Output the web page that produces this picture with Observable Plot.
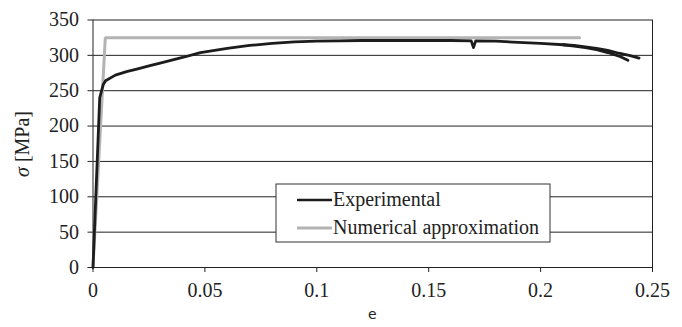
<!DOCTYPE html>
<html>
<head>
<meta charset="utf-8">
<script src="https://cdn.jsdelivr.net/npm/d3@7"></script>
<script src="https://cdn.jsdelivr.net/npm/@observablehq/plot@0.6"></script>
<style>
  html, body { margin: 0; padding: 0; background: #fff; }
  #chart { width: 682px; height: 327px; }
  #chart svg text, #chart svg tspan { font-family: "Liberation Serif", "DejaVu Serif", "Times New Roman", serif; }
  #chart svg text.sans { font-family: "DejaVu Sans", sans-serif; }
</style>
</head>
<body>
<div id="chart"></div>
<script>
// Experimental curve (main branch)
const expStrain = [0, 0.0015, 0.003, 0.0045, 0.0056, 0.01, 0.015, 0.02, 0.025, 0.03, 0.04, 0.048, 0.06, 0.07, 0.08, 0.09, 0.1, 0.11, 0.12, 0.13, 0.14, 0.15, 0.16, 0.169, 0.17, 0.171, 0.18, 0.19, 0.2, 0.21, 0.215, 0.22, 0.225, 0.23, 0.235, 0.239];
const expStress = [0, 120, 240, 258, 264, 272, 277, 281, 285, 289, 297, 304, 310, 314, 317, 319, 320, 320.5, 321, 321, 321, 321, 321, 320.5, 311, 320.5, 320, 318.5, 317, 315, 313, 311, 308, 304, 299, 293];
// Experimental curve (second branch near fracture)
const exp2Strain = [0.21, 0.215, 0.22, 0.225, 0.23, 0.235, 0.24, 0.244];
const exp2Stress = [315, 314, 312, 310, 307, 303, 299.5, 296];
// Numerical approximation (bilinear)
const numStrain = [0, 0.0055, 0.2174];
const numStress = [0, 325, 325];

const xTicks = [0, 0.05, 0.1, 0.15, 0.2, 0.25];
const yTicks = [0, 50, 100, 150, 200, 250, 300, 350];
const seriesNames = ["Experimental", "Numerical approximation"];
const seriesColors = ["#1c1c1c", "#b3b3b3"];

const exp1 = expStrain.map((e, i) => ({e, s: expStress[i]}));
const exp2 = exp2Strain.map((e, i) => ({e, s: exp2Stress[i]}));
const num = numStrain.map((e, i) => ({e, s: numStress[i]}));

const W = 682, H = 327;
const mL = 92.5, mR = 30, mT = 19.5, mB = 60;

const plot = Plot.plot({
  width: W,
  height: H,
  marginLeft: mL,
  marginRight: mR,
  marginTop: mT,
  marginBottom: mB,
  style: {fontSize: "20px", color: "#222", background: "#fff"},
  x: {domain: [0, 0.25]},
  y: {domain: [0, 350]},
  marks: [
    Plot.gridY(yTicks, {stroke: "#222", strokeOpacity: 1, strokeWidth: 1}),
    Plot.ruleX([0.25], {stroke: "#222", strokeWidth: 1}),
    Plot.line(num, {x: "e", y: "s", stroke: seriesColors[1], strokeWidth: 3, strokeLinejoin: "miter"}),
    Plot.line(exp1, {x: "e", y: "s", stroke: seriesColors[0], strokeWidth: 2.8}),
    Plot.line(exp2, {x: "e", y: "s", stroke: seriesColors[0], strokeWidth: 2.8}),
    Plot.axisX({ticks: xTicks, tickFormat: d => String(d), tickSize: 5, tickPadding: 10, label: null, stroke: "#222"}),
    Plot.axisY({ticks: yTicks, tickSize: 5, tickPadding: 9, label: null, stroke: "#222"}),
    Plot.ruleY([0], {stroke: "#222", strokeWidth: 1}),
    Plot.ruleX([0], {stroke: "#222", strokeWidth: 1})
  ]
});

document.getElementById("chart").appendChild(plot);

const svg = d3.select(plot);

// Y axis label
const yl = svg.append("text")
  .attr("transform", "translate(29,144) rotate(-90)")
  .attr("text-anchor", "middle")
  .attr("fill", "#222")
  .style("font-size", "20px");
yl.append("tspan").attr("font-style", "italic").text("σ");
yl.append("tspan").text(" [MPa]");

// X axis label
svg.append("text")
  .attr("class", "sans")
  .attr("x", (mL + (W - mR)) / 2)
  .attr("y", 319)
  .attr("text-anchor", "middle")
  .attr("fill", "#222")
  .style("font-size", "14px")
  .text("e");

// Legend box
const lg = svg.append("g");
lg.append("rect")
  .attr("x", 276).attr("y", 184).attr("width", 274).attr("height", 58)
  .attr("fill", "#fff").attr("stroke", "#333").attr("stroke-width", 1);
const rowY = [200, 228];
seriesNames.forEach((name, i) => {
  lg.append("line")
    .attr("x1", 297).attr("x2", 332)
    .attr("y1", rowY[i]).attr("y2", rowY[i])
    .attr("stroke", seriesColors[i]).attr("stroke-width", i === 0 ? 2.5 : 3);
  lg.append("text")
    .attr("x", 333).attr("y", rowY[i] + 6)
    .attr("text-anchor", "start")
    .attr("fill", "#222")
    .style("font-size", "20px")
    .text(name);
});
</script>
</body>
</html>
